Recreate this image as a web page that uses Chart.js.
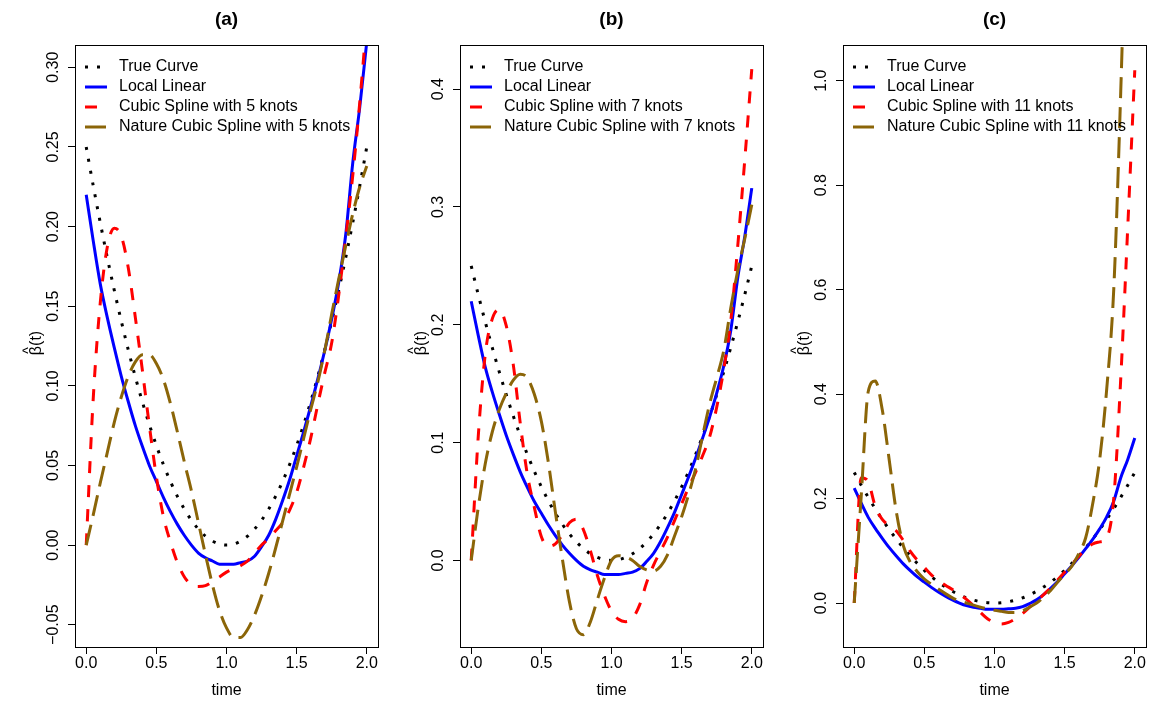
<!DOCTYPE html>
<html>
<head>
<meta charset="utf-8">
<script src="https://cdn.jsdelivr.net/npm/chart.js@4.4.1/dist/chart.umd.min.js"></script>
<style>
  body { margin: 0; background: #fff; }
  canvas { position: absolute; top: 0; }
</style>
</head>
<body>
<canvas id="panelA" width="385" height="702" style="left:0px"></canvas>
<canvas id="panelB" width="385" height="702" style="left:385px"></canvas>
<canvas id="panelC" width="385" height="702" style="left:768px"></canvas>
<script>
// time grid
var time = [0, 0.05, 0.1, 0.15, 0.2, 0.25, 0.3, 0.35, 0.4, 0.45, 0.5, 0.55, 0.6, 0.65, 0.7, 0.75, 0.8, 0.85, 0.9, 0.95,
            1.0, 1.05, 1.1, 1.15, 1.2, 1.25, 1.3, 1.35, 1.4, 1.45, 1.5, 1.55, 1.6, 1.65, 1.7, 1.75, 1.8, 1.85, 1.9, 1.95, 2.0]

var trueCurve = [0.25, 0.2256, 0.2025, 0.1806, 0.16, 0.1406, 0.1225, 0.1056, 0.09, 0.0756, 0.0625, 0.0506, 0.04, 0.0306, 0.0225, 0.0156, 0.01, 0.0056, 0.0025, 0.0006,
                 0, 0.0006, 0.0025, 0.0056, 0.01, 0.0156, 0.0225, 0.0306, 0.04, 0.0506, 0.0625, 0.0756, 0.09, 0.1056, 0.1225, 0.1406, 0.16, 0.1806, 0.2025, 0.2256, 0.25]

var localLinear = [0.220, 0.191, 0.164, 0.143, 0.124, 0.106, 0.090, 0.075, 0.062, 0.050, 0.040, 0.030, 0.021, 0.013, 0.006, 0.000, -0.005, -0.008, -0.010, -0.012,
                   -0.012, -0.012, -0.011, -0.010, -0.007, -0.001, 0.006, 0.016, 0.028, 0.041, 0.056, 0.071, 0.087, 0.104, 0.122, 0.142, 0.165, 0.195, 0.240, 0.275, 0.316]

// panel (a), 5 knots
var csA = [0.000, 0.092, 0.152, 0.187, 0.199, 0.194, 0.174, 0.143, 0.110, 0.075, 0.043, 0.018, 0.002, -0.011, -0.020, -0.025, -0.026, -0.0255, -0.023, -0.020,
           -0.017, -0.015, -0.013, -0.010, -0.005, 0.000, 0.004, 0.009, 0.014, 0.022, 0.033, 0.049, 0.067, 0.088, 0.108, 0.127, 0.157, 0.193, 0.232, 0.278, 0.330]
var ncsA = [0.000, 0.019, 0.039, 0.058, 0.077, 0.093, 0.106, 0.115, 0.1195, 0.1195, 0.114, 0.104, 0.089, 0.071, 0.052, 0.034, 0.014, -0.006, -0.025, -0.041,
            -0.052, -0.058, -0.058, -0.053, -0.044, -0.032, -0.018, -0.002, 0.015, 0.032, 0.049, 0.067, 0.085, 0.102, 0.122, 0.145, 0.167, 0.188, 0.208, 0.225, 0.238]

// panel (b), 7 knots
var csB = [0.000, 0.105, 0.175, 0.205, 0.213, 0.199, 0.166, 0.116, 0.073, 0.045, 0.020, 0.012, 0.014, 0.022, 0.032, 0.035, 0.026, 0.008, -0.013, -0.030,
           -0.043, -0.050, -0.052, -0.049, -0.038, -0.019, -0.004, 0.008, 0.020, 0.034, 0.048, 0.062, 0.075, 0.089, 0.105, 0.130, 0.162, 0.203, 0.267, 0.340, 0.417]
var ncsB = [0.000, 0.045, 0.082, 0.109, 0.128, 0.142, 0.153, 0.158, 0.155, 0.141, 0.118, 0.083, 0.041, 0.001, -0.035, -0.058, -0.063, -0.052, -0.033, -0.015,
            0.000, 0.004, 0.003, 0.000, -0.005, -0.008, -0.009, -0.005, 0.005, 0.021, 0.037, 0.056, 0.078, 0.106, 0.133, 0.155, 0.178, 0.214, 0.246, 0.273, 0.302]

// panel (c), 11 knots
var csC = [0.000, 0.240, 0.232, 0.185, 0.160, 0.148, 0.138, 0.120, 0.099, 0.082, 0.068, 0.054, 0.043, 0.034, 0.026, 0.017, 0.007, -0.005, -0.018, -0.030,
           -0.037, -0.040, -0.037, -0.030, -0.020, -0.008, 0.004, 0.016, 0.029, 0.044, 0.059, 0.074, 0.089, 0.103, 0.113, 0.117, 0.125, 0.200, 0.430, 0.720, 1.020]
var ncsC = [0.000, 0.205, 0.405, 0.425, 0.370, 0.273, 0.175, 0.110, 0.078, 0.060, 0.046, 0.036, 0.027, 0.018, 0.010, 0.004, 0.000, -0.004, -0.008, -0.011,
            -0.014, -0.016, -0.018, -0.018, -0.015, -0.008, 0.000, 0.011, 0.024, 0.040, 0.055, 0.070, 0.094, 0.125, 0.190, 0.275, 0.410, 0.600, 0.980, 1.450, 2.000]

var xTicks = [0, 0.5, 1.0, 1.5, 2.0]
var yTicksA = [-0.05, 0, 0.05, 0.10, 0.15, 0.20, 0.25, 0.30]
var yTicksB = [0, 0.1, 0.2, 0.3, 0.4]
var yTicksC = [0, 0.2, 0.4, 0.6, 0.8, 1.0]

var FONT = '"Liberation Sans", Arial, Helvetica, sans-serif'
Chart.defaults.font.family = FONT
Chart.defaults.font.size = 16
Chart.defaults.color = '#000'

function fmt(v, d){
    if (Math.abs(v) < 1e-9) v = 0
    return v < 0 ? '\u2212' + Math.abs(v).toFixed(d) : v.toFixed(d)
}

function pts(arr){
    return time.map(function(t, i){ return {x: t, y: arr[i]} })
}

// box, rotated y labels, y title, panel title and legend the way base R draws them
var rStyle = {
    id: 'rStyle',
    afterDraw: function(chart, args, opts){
        var ctx = chart.ctx
        var a = chart.chartArea
        var ys = chart.scales.y
        ctx.save()
        ctx.strokeStyle = '#000'
        ctx.lineWidth = 1
        ctx.setLineDash([])
        ctx.strokeRect(Math.round(a.left) + 0.5, Math.round(a.top) + 0.5, Math.round(a.right - a.left), Math.round(a.bottom - a.top))

        ctx.fillStyle = '#000'
        ctx.font = '16px ' + FONT
        ctx.textAlign = 'center'
        ctx.textBaseline = 'middle'
        ys.ticks.forEach(function(tk){
            var py = ys.getPixelForValue(tk.value)
            ctx.save()
            ctx.translate(a.left - 21, py)
            ctx.rotate(-Math.PI / 2)
            ctx.fillText(fmt(tk.value, opts.dec), 0, 0)
            ctx.restore()
        })

        // y title: beta with a hat, read upwards
        ctx.save()
        ctx.translate(35, (a.top + a.bottom) / 2 - 3)
        ctx.rotate(-Math.PI / 2)
        ctx.textBaseline = 'alphabetic'
        ctx.textAlign = 'left'
        var lab = '\u03b2(t)'
        var w = ctx.measureText(lab).width
        var bw = ctx.measureText('\u03b2').width
        ctx.fillText(lab, -w / 2, 6)
        ctx.font = '14px ' + FONT
        ctx.textAlign = 'center'
        ctx.fillText('^', -w / 2 + bw / 2, -2)
        ctx.restore()

        ctx.font = 'bold 19px ' + FONT
        ctx.fillText(opts.title, (a.left + a.right) / 2, 20)

        ctx.font = '16px ' + FONT
        ctx.textAlign = 'left'
        chart.data.datasets.forEach(function(ds, i){
            var ly = a.top + 22 + i * 20
            ctx.save()
            ctx.strokeStyle = ds.borderColor
            ctx.lineWidth = ds.borderWidth
            ctx.setLineDash(ds.borderDash || [])
            ctx.beginPath()
            ctx.moveTo(a.left + 10, ly)
            ctx.lineTo(a.left + 32, ly)
            ctx.stroke()
            ctx.restore()
            ctx.fillText(ds.label, a.left + 44, ly)
        })
        ctx.restore()
    }
}

function makePanel(id, title, knots, cs, ncs, yMin, yMax, yTicks, dec){
    var ctx = document.getElementById(id).getContext('2d')
    return new Chart(ctx, {
        type: 'line',
        data: {
            datasets: [
                {label: 'True Curve', data: pts(trueCurve), borderColor: '#000000', borderWidth: 3, borderDash: [3, 9], order: 3},
                {label: 'Local Linear', data: pts(localLinear), borderColor: '#0000FF', borderWidth: 3, order: 2},
                {label: 'Cubic Spline with ' + knots + ' knots', data: pts(cs), borderColor: '#FF0000', borderWidth: 3, borderDash: [12, 12], order: 1},
                {label: 'Nature Cubic Spline with ' + knots + ' knots', data: pts(ncs), borderColor: '#8B6508', borderWidth: 3, borderDash: [21, 9], order: 0}
            ]
        },
        options: {
            responsive: false,
            animation: false,
            devicePixelRatio: 1,
            events: [],
            layout: {padding: {top: 45, right: 7, bottom: 0, left: 0}},
            elements: {
                point: {radius: 0},
                line: {fill: false, cubicInterpolationMode: 'monotone', borderCapStyle: 'butt'}
            },
            plugins: {
                legend: {display: false},
                tooltip: {enabled: false},
                rStyle: {title: title, dec: dec}
            },
            scales: {
                x: {
                    type: 'linear',
                    min: -0.08,
                    max: 2.08,
                    afterBuildTicks: function(s){ s.ticks = xTicks.map(function(v){ return {value: v} }) },
                    afterFit: function(s){ s.height = 55 },
                    ticks: {padding: 0, maxRotation: 0, autoSkip: false, callback: function(v){ return fmt(v, 1) }},
                    grid: {drawOnChartArea: false, tickLength: 7, color: '#000'},
                    border: {display: false},
                    title: {display: true, text: 'time', padding: {top: 0, bottom: 2}}
                },
                y: {
                    type: 'linear',
                    min: yMin,
                    max: yMax,
                    afterBuildTicks: function(s){ s.ticks = yTicks.map(function(v){ return {value: v} }) },
                    afterFit: function(s){ s.width = 75 },
                    ticks: {display: false},
                    grid: {drawOnChartArea: false, tickLength: 7, color: '#000'},
                    border: {display: false}
                }
            }
        },
        plugins: [rStyle]
    })
}

makePanel('panelA', '(a)', 5, csA, ncsA, -0.064, 0.314, yTicksA, 2)
makePanel('panelB', '(b)', 7, csB, ncsB, -0.0735, 0.4375, yTicksB, 1)
makePanel('panelC', '(c)', 11, csC, ncsC, -0.0842, 1.0684, yTicksC, 1)
</script>
</body>
</html>
